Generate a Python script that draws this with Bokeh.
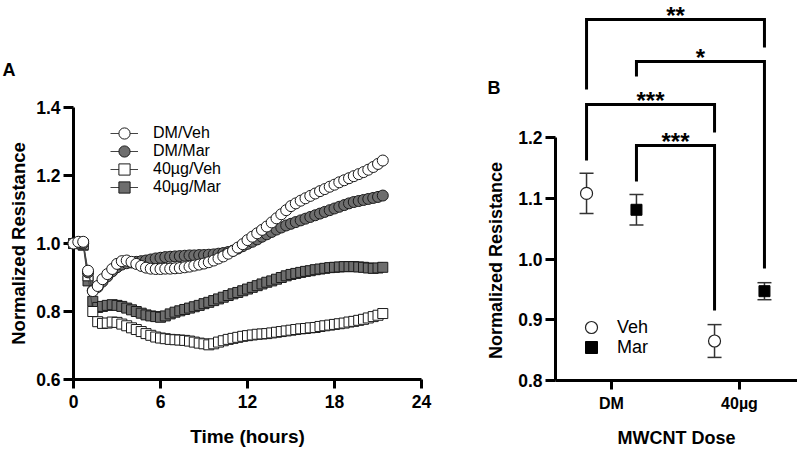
from math import pi
from bokeh.plotting import figure
from bokeh.models import (Range1d, FixedTicker, Legend, LegendItem, Whisker, TeeHead,
                          ColumnDataSource, LinearAxis, NumeralTickFormatter)
from bokeh.core.properties import value
from bokeh.embed import file_html
from bokeh.resources import INLINE

FONT = "Liberation Sans"

# ---------------- Panel A data: normalized resistance over time ----------------
hours = [0, 0.33, 0.67, 1, 1.33, 1.67, 2, 2.33, 2.67, 3,
         3.33, 3.67, 4, 4.33, 4.67, 5, 5.33, 5.67, 6, 6.33,
         6.67, 7, 7.33, 7.67, 8, 8.33, 8.67, 9, 9.33, 9.67,
         10, 10.33, 10.67, 11, 11.33, 11.67, 12, 12.33, 12.67, 13,
         13.33, 13.67, 14, 14.33, 14.67, 15, 15.33, 15.67, 16, 16.33,
         16.67, 17, 17.33, 17.67, 18, 18.33, 18.67, 19, 19.33, 19.67,
         20, 20.33, 20.67, 21, 21.33]

dm_veh = [1.000, 1.005, 1.005, 0.920, 0.860, 0.875, 0.895, 0.910, 0.925, 0.940,
          0.948, 0.950, 0.946, 0.940, 0.934, 0.929, 0.926, 0.925, 0.925, 0.926,
          0.926, 0.927, 0.928, 0.930, 0.932, 0.935, 0.938, 0.941, 0.945, 0.950,
          0.956, 0.962, 0.970, 0.978, 0.988, 0.998, 1.010, 1.020, 1.030, 1.040,
          1.050, 1.062, 1.074, 1.086, 1.098, 1.110, 1.118, 1.126, 1.133, 1.140,
          1.147, 1.154, 1.160, 1.167, 1.173, 1.180, 1.186, 1.192, 1.198, 1.204,
          1.210, 1.217, 1.225, 1.234, 1.244]

dm_mar = [1.000, 1.000, 1.000, 0.915, 0.862, 0.872, 0.888, 0.903, 0.918, 0.930,
          0.938, 0.942, 0.944, 0.946, 0.948, 0.950, 0.953, 0.956, 0.958, 0.960,
          0.961, 0.962, 0.963, 0.964, 0.965, 0.965, 0.966, 0.966, 0.967, 0.968,
          0.970, 0.972, 0.975, 0.979, 0.985, 0.992, 0.999, 1.005, 1.012, 1.020,
          1.027, 1.034, 1.041, 1.047, 1.053, 1.058, 1.063, 1.068, 1.073, 1.078,
          1.083, 1.088, 1.093, 1.098, 1.103, 1.108, 1.113, 1.118, 1.122, 1.125,
          1.128, 1.131, 1.134, 1.137, 1.141]

mwcnt_veh = [1.000, 1.000, 0.998, 0.905, 0.800, 0.770, 0.765, 0.766, 0.769, 0.768,
             0.763, 0.758, 0.752, 0.747, 0.741, 0.735, 0.730, 0.725, 0.722, 0.720,
             0.718, 0.717, 0.716, 0.715, 0.713, 0.710, 0.707, 0.705, 0.702, 0.705,
             0.710, 0.714, 0.718, 0.721, 0.724, 0.727, 0.729, 0.731, 0.733, 0.734,
             0.735, 0.737, 0.739, 0.741, 0.743, 0.745, 0.747, 0.749, 0.750, 0.752,
             0.753, 0.756, 0.758, 0.760, 0.762, 0.764, 0.766, 0.769, 0.771, 0.774,
             0.777, 0.781, 0.785, 0.789, 0.794]

mwcnt_mar = [1.000, 1.000, 0.995, 0.890, 0.830, 0.812, 0.815, 0.818, 0.820, 0.818,
             0.815, 0.810, 0.805, 0.800, 0.795, 0.790, 0.787, 0.785, 0.783, 0.787,
             0.793, 0.798, 0.802, 0.806, 0.810, 0.814, 0.818, 0.823, 0.827, 0.832,
             0.837, 0.842, 0.847, 0.852, 0.856, 0.861, 0.866, 0.871, 0.876, 0.881,
             0.886, 0.890, 0.895, 0.900, 0.905, 0.909, 0.912, 0.915, 0.918, 0.920,
             0.923, 0.925, 0.927, 0.929, 0.930, 0.931, 0.932, 0.932, 0.932, 0.931,
             0.930, 0.928, 0.927, 0.928, 0.930]

series_names = ["DM/Veh", "DM/Mar", "40µg/Veh", "40µg/Mar"]
x_ticks_a = [0, 6, 12, 18, 24]
y_ticks_a = [0.6, 0.8, 1.0, 1.2, 1.4]

# ---------------- Panel B data: group means +/- SEM ----------------
doses = ["DM", "40µg"]
treatments = ["Veh", "Mar"]
veh_mean = [1.108, 0.865]
veh_sem = [0.033, 0.027]
mar_mean = [1.081, 0.947]
mar_sem = [0.025, 0.014]
y_ticks_b = [0.8, 0.9, 1.0, 1.1, 1.2]

# significance comparisons (group -> group) and their labels
comp_from = [("DM", "Veh"), ("DM", "Mar"), ("DM", "Veh"), ("DM", "Mar")]
comp_to = [("40µg", "Mar"), ("40µg", "Mar"), ("40µg", "Veh"), ("40µg", "Veh")]
comp_text = ["**", "*", "***", "***"]

# ---------------- layout (page pixels -> data units) ----------------
W, H = 797, 451          # canvas fills the window (Bokeh's page has no body margin)
PAGE_L, PAGE_T = 0, 0
PAGE_R, PAGE_B = PAGE_L + W, PAGE_T + H


def a_x(px):  # panel A time axis: t=0 at px 73, 14.5 px per hour
    return (px - 73) / 14.5


def a_y(py):  # panel A resistance: 1.4 at py 107, 340 px per unit
    return 1.4 - (py - 107) / 340.0


def b_x(px):  # panel B dose axis: DM (=1) at px 611, 128 px per unit
    return 1 + (px - 611) / 128.0


def b_y(py):  # panel B resistance: 0.8 at py 380, 607.5 px per unit
    return 0.8 + (380 - py) / 607.5


# bracket geometry (page px rows)
bracket_top = [b_y(19), b_y(61), b_y(104), b_y(145)]
leg_from_end = [b_y(89), b_y(76), b_y(160), b_y(181)]
leg_to_end = [b_y(47), b_y(268), b_y(132), b_y(310)]
star_gap_px = 4

p = figure(width=W, height=H,
           x_range=Range1d(a_x(PAGE_L), a_x(PAGE_R)),
           y_range=Range1d(a_y(PAGE_B), a_y(PAGE_T)),
           x_axis_type=None, y_axis_type=None,
           output_backend="svg", toolbar_location=None,
           min_border=0, min_border_left=0, min_border_right=0,
           min_border_top=0, min_border_bottom=0)
p.extra_x_ranges = {"bx": Range1d(b_x(PAGE_L), b_x(PAGE_R))}
p.extra_y_ranges = {"by": Range1d(b_y(PAGE_B), b_y(PAGE_T))}
p.outline_line_color = None
p.background_fill_color = "white"
p.border_fill_color = "white"


def style_axis(ax, tick_size="17px", tick_out=10, standoff=3):
    ax.axis_line_width = 3
    ax.axis_line_color = "black"
    ax.major_tick_line_width = 3
    ax.major_tick_line_color = "black"
    ax.major_tick_in = 0
    ax.major_tick_out = tick_out
    ax.minor_tick_out = 0
    ax.minor_tick_in = 0
    ax.major_label_standoff = standoff
    ax.major_label_text_font = FONT
    ax.major_label_text_font_style = "bold"
    ax.major_label_text_font_size = tick_size
    ax.major_label_text_color = "black"
    ax.axis_label = None


# ---- Panel A axes ----
ya = LinearAxis(fixed_location=0, bounds=(0.6, 1.4), ticker=FixedTicker(ticks=y_ticks_a),
                formatter=NumeralTickFormatter(format="0.0"), level="underlay")
style_axis(ya, tick_size="17.5px", tick_out=10, standoff=3)
p.add_layout(ya, "left")
xa = LinearAxis(fixed_location=0.6, bounds=(0, 24), ticker=FixedTicker(ticks=x_ticks_a),
                level="underlay")
style_axis(xa, tick_size="17.5px", tick_out=9, standoff=6)
p.add_layout(xa, "below")

# ---- Panel A series ----
styles = {
    "DM/Veh": ("circle", "white", dm_veh, 11),
    "DM/Mar": ("circle", "#6e6e6e", dm_mar, 11),
    "40µg/Veh": ("square", "white", mwcnt_veh, 10),
    "40µg/Mar": ("square", "#6e6e6e", mwcnt_mar, 10),
}
renderers = {}
for name in reversed(series_names):
    marker, fill, vals, size = styles[name]
    ln = p.line(hours, vals, line_color="#444444", line_width=1)
    sc = p.scatter(hours, vals, marker=marker, size=size, fill_color=fill,
                   line_color="#1a1a1a", line_width=1)
    renderers[name] = [ln, sc]

legend_rows_a = [133, 151, 169, 187]
for name, cy in zip(series_names, legend_rows_a):
    p.add_layout(Legend(items=[LegendItem(label=name, renderers=renderers[name])],
                        location=(110 - PAGE_L, PAGE_B - (cy + 14)),
                        glyph_width=28, glyph_height=28, label_height=18,
                        padding=0, margin=0, border_line_color=None,
                        background_fill_alpha=0, label_standoff=15,
                        label_text_font=FONT, label_text_font_size="16px",
                        label_text_color="black"))

# ---- Panel B axes ----
dose_pos = list(range(1, len(doses) + 1))
yb = LinearAxis(x_range_name="bx", y_range_name="by", fixed_location=b_x(555),
                bounds=(0.8, 1.2), ticker=FixedTicker(ticks=y_ticks_b),
                formatter=NumeralTickFormatter(format="0.0"))
style_axis(yb, tick_size="17.5px", tick_out=10, standoff=3)
p.add_layout(yb, "left")
xb = LinearAxis(x_range_name="bx", y_range_name="by", fixed_location=0.8,
                bounds=(b_x(555), b_x(PAGE_R)), ticker=FixedTicker(ticks=dose_pos))
xb.major_label_overrides = {d_pos: d for d_pos, d in zip(dose_pos, doses)}
style_axis(xb, tick_size="16px", tick_out=9, standoff=5)
p.add_layout(xb, "below")

# ---- Panel B points ----
dodge_w = 0.195
tr_offset = {"Veh": -dodge_w, "Mar": dodge_w}
pos = {}
for d, dp in zip(doses, dose_pos):
    for t in treatments:
        pos[(d, t)] = dp + tr_offset[t]
veh_x = [pos[(d, "Veh")] for d in doses]
mar_x = [pos[(d, "Mar")] for d in doses]

for xs_, m, s in ((veh_x, veh_mean, veh_sem), (mar_x, mar_mean, mar_sem)):
    src = ColumnDataSource(dict(x=xs_, upper=[a + b for a, b in zip(m, s)],
                                lower=[a - b for a, b in zip(m, s)]))
    p.add_layout(Whisker(source=src, base="x", upper="upper", lower="lower",
                         dimension="height", line_width=1.5, line_color="#333333",
                         x_range_name="bx", y_range_name="by",
                         upper_head=TeeHead(size=14, line_width=1.5, line_color="#333333"),
                         lower_head=TeeHead(size=14, line_width=1.5, line_color="#333333"),
                         level="underlay"))

r_veh = p.scatter(veh_x, veh_mean, marker="circle", size=12, fill_color="white",
                  line_color="#222222", line_width=1.2, x_range_name="bx", y_range_name="by")
r_mar = p.scatter(mar_x, mar_mean, marker="square", size=11, fill_color="black",
                  line_color="black", line_width=1, x_range_name="bx", y_range_name="by")

bx_l, by_l = [], []
for f, t, top, l1, l2 in zip(comp_from, comp_to, bracket_top, leg_from_end, leg_to_end):
    x1, x2 = pos[f], pos[t]
    bx_l.append([x1, x1, x2, x2])
    by_l.append([l1, top, top, l2])
p.multi_line(bx_l, by_l, line_color="black", line_width=3, line_join="miter",
             x_range_name="bx", y_range_name="by")

p.text(x=[(pos[f] + pos[t]) / 2 for f, t in zip(comp_from, comp_to)],
       y=[top + star_gap_px / 607.5 for top in bracket_top],
       text=comp_text, text_align="center", text_baseline="alphabetic",
       text_font=value(FONT), text_font_style=value("bold"), text_font_size=value("24px"),
       text_color="black", x_range_name="bx", y_range_name="by")

legend_rows_b = [327, 347]
for r, lab, cy in zip([r_veh, r_mar], treatments, legend_rows_b):
    p.add_layout(Legend(items=[LegendItem(label=lab, renderers=[r])],
                        location=(576 - PAGE_L, PAGE_B - (cy + 15)),
                        glyph_width=30, glyph_height=30, label_height=20,
                        padding=0, margin=0, border_line_color=None,
                        background_fill_alpha=0, label_standoff=11,
                        label_text_font=FONT, label_text_font_size="18px",
                        label_text_color="black"))


# ---- titles and panel letters ----
def bold_text(x, y, txt, size, angle=0.0, align="center", rng=None):
    kw = dict(x_range_name="bx", y_range_name="by") if rng == "b" else {}
    p.text(x=[x], y=[y], text=[txt], angle=angle, text_align=align, text_baseline="middle",
           text_font=value(FONT), text_font_style=value("bold"),
           text_font_size=value(size), text_color="black", **kw)


bold_text(a_x(2), a_y(69), "A", "18px", align="left")
bold_text(b_x(487), b_y(87), "B", "18px", align="left", rng="b")
bold_text(a_x(18), a_y(243), "Normalized Resistance", "18.5px", angle=pi / 2)
bold_text(a_x(247), a_y(436), "Time (hours)", "19px")
bold_text(b_x(495), b_y(260), "Normalized Resistance", "18px", angle=pi / 2, rng="b")
bold_text(b_x(676), b_y(437), "MWCNT Dose", "18px", rng="b")

open("out.html", "w").write(file_html(p, INLINE))
